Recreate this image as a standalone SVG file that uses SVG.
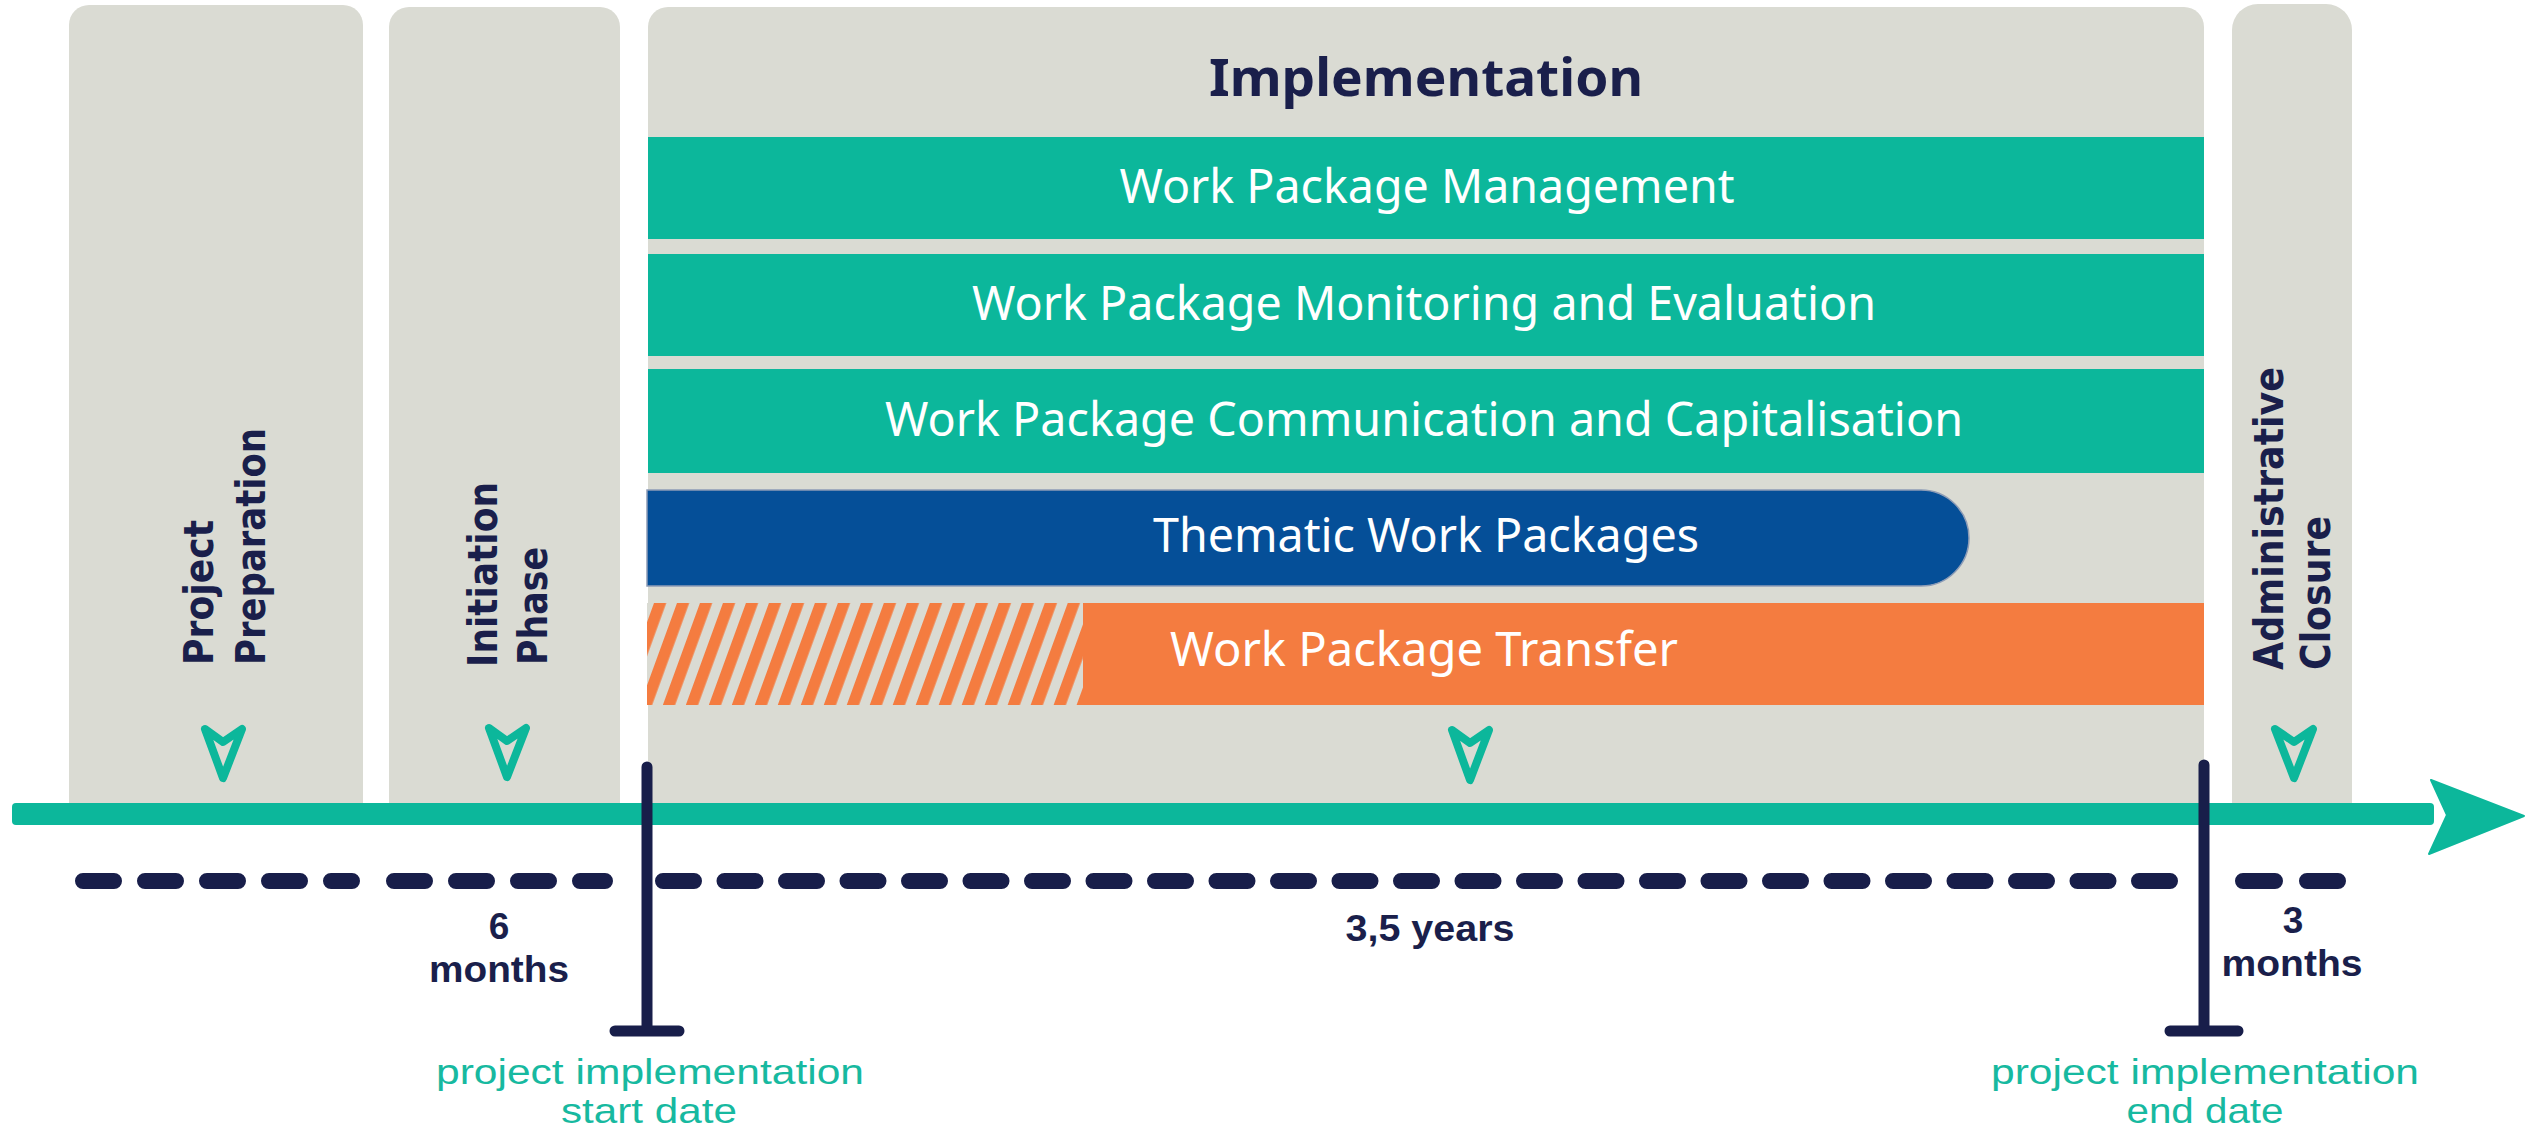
<svg xmlns="http://www.w3.org/2000/svg" width="2526" height="1131" viewBox="0 0 2526 1131">
<defs>
<style>
.phase{fill:#dadbd3}
.teal{fill:#0cb79b}
.lbl{font-family:"Noto Sans","Liberation Sans",sans-serif;font-size:47px;fill:#ffffff;text-anchor:middle}
.vt{font-family:"DejaVu Sans","Liberation Sans",sans-serif;font-weight:bold;font-size:40px;fill:#1a1f4b}
.dur{font-family:"Liberation Sans","Noto Sans",sans-serif;font-weight:bold;font-size:37px;fill:#1a1f4b;text-anchor:middle}
.ms{font-family:"Liberation Sans","Noto Sans",sans-serif;font-size:35px;fill:#17b9a0;text-anchor:middle}
.icon{fill:none;stroke:#0cb79b;stroke-width:8;stroke-linejoin:round;stroke-linecap:round}
.dash{fill:none;stroke:#181e4a;stroke-width:16;stroke-linecap:round;stroke-dasharray:31 31}
.mline{fill:none;stroke:#181e4a;stroke-width:11;stroke-linecap:round}
</style>
<pattern id="hatch" patternUnits="userSpaceOnUse" width="21.6" height="40" patternTransform="rotate(20)">
<rect x="0" y="0" width="21.6" height="40" fill="#dadbd3"/>
<rect x="0" y="0" width="11.5" height="40" fill="#f47c40"/>
</pattern>
</defs>
<rect width="2526" height="1131" fill="#ffffff"/>

<g id="node-project-preparation">
<path class="phase" d="M69,812 V25 A20,20 0 0 1 89,5 H343 A20,20 0 0 1 363,25 V812 Z"/>
<text class="vt" x="213" y="665" transform="rotate(-90 213 665)" textLength="145" lengthAdjust="spacingAndGlyphs">Project</text>
<text class="vt" x="265" y="665" transform="rotate(-90 265 665)" textLength="237" lengthAdjust="spacingAndGlyphs">Preparation</text>
<path class="icon" d="M205,729 L223,742 L242,729 L223,778 Z"/>
</g>

<g id="node-initiation-phase">
<path class="phase" d="M389,812 V27 A20,20 0 0 1 409,7 H600 A20,20 0 0 1 620,27 V812 Z"/>
<text class="vt" x="497" y="667" transform="rotate(-90 497 667)" textLength="185" lengthAdjust="spacingAndGlyphs">Initiation</text>
<text class="vt" x="547" y="665" transform="rotate(-90 547 665)" textLength="118" lengthAdjust="spacingAndGlyphs">Phase</text>
<path class="icon" d="M489,728 L507,741 L526,728 L507,777 Z"/>
</g>

<g id="node-implementation">
<path class="phase" d="M648,812 V27 A20,20 0 0 1 668,7 H2184 A20,20 0 0 1 2204,27 V812 Z"/>
<text x="1426" y="96" textLength="434" lengthAdjust="spacingAndGlyphs" style="font-family:'Noto Sans','Liberation Sans',sans-serif;font-weight:bold;font-size:52px;fill:#1a1f4b;text-anchor:middle">Implementation</text>
<path class="icon" d="M1452,730 L1470,743 L1489,730 L1470,780 Z"/>
</g>

<g id="node-wp-management">
<rect class="teal" x="648" y="137" width="1556" height="102"/>
<text class="lbl" x="1427" y="203" textLength="615" lengthAdjust="spacingAndGlyphs">Work Package Management</text>
</g>
<g id="node-wp-monitoring">
<rect class="teal" x="648" y="254" width="1556" height="102"/>
<text class="lbl" x="1424" y="320" textLength="904" lengthAdjust="spacingAndGlyphs">Work Package Monitoring and Evaluation</text>
</g>
<g id="node-wp-communication">
<rect class="teal" x="648" y="369" width="1556" height="104"/>
<text class="lbl" x="1424" y="436" textLength="1078" lengthAdjust="spacingAndGlyphs">Work Package Communication and Capitalisation</text>
</g>
<g id="node-thematic">
<path d="M647,490 H1921 A48,48 0 0 1 1921,586 H647 Z" fill="#054f98" stroke="#8d9cb6" stroke-width="1.5"/>
<text class="lbl" x="1426" y="552" textLength="546" lengthAdjust="spacingAndGlyphs">Thematic Work Packages</text>
</g>
<g id="node-transfer">
<rect x="647" y="603" width="437" height="102" fill="url(#hatch)"/>
<rect x="1083" y="603" width="1121" height="102" fill="#f47c40"/>
<text class="lbl" x="1424" y="666" textLength="508" lengthAdjust="spacingAndGlyphs">Work Package Transfer</text>
</g>

<g id="node-administrative-closure">
<path class="phase" d="M2232,812 V30 A26,26 0 0 1 2258,4 H2326 A26,26 0 0 1 2352,30 V812 Z"/>
<text class="vt" x="2283" y="670" transform="rotate(-90 2283 670)" textLength="303" lengthAdjust="spacingAndGlyphs">Administrative</text>
<text class="vt" x="2330" y="670" transform="rotate(-90 2330 670)" textLength="154" lengthAdjust="spacingAndGlyphs">Closure</text>
<path class="icon" d="M2275,729 L2294,742 L2313,729 L2294,778 Z"/>
</g>

<g id="connectors">
<rect x="12" y="803" width="2422" height="22" rx="4" fill="#0cb79b"/>
<path d="M2431,780 L2524,816 L2429,854 L2447,815 Z" fill="#0cb79b" stroke="#0cb79b" stroke-width="2" stroke-linejoin="round"/>
<path class="dash" d="M83,881 H352"/>
<path class="dash" d="M394,881 H605"/>
<path class="dash" d="M663,881 H2185" style="stroke-dasharray:31 30.5"/>
<path class="dash" d="M2243,881 H2338" style="stroke-dasharray:32 32"/>
<path class="mline" d="M647,767 V1031 M615,1031 H679"/>
<path class="mline" d="M2204,765 V1031 M2170,1031 H2238"/>
</g>

<g id="labels">
<text class="dur" x="499" y="939">6</text>
<text class="dur" x="499" y="982" textLength="140" lengthAdjust="spacingAndGlyphs">months</text>
<text class="dur" x="1430" y="941" textLength="169" lengthAdjust="spacingAndGlyphs">3,5 years</text>
<text class="dur" x="2293" y="933">3</text>
<text class="dur" x="2292" y="976" textLength="141" lengthAdjust="spacingAndGlyphs">months</text>
<text class="ms" x="650" y="1084" textLength="428" lengthAdjust="spacingAndGlyphs">project implementation</text>
<text class="ms" x="649" y="1123" textLength="176" lengthAdjust="spacingAndGlyphs">start date</text>
<text class="ms" x="2205" y="1084" textLength="428" lengthAdjust="spacingAndGlyphs">project implementation</text>
<text class="ms" x="2205" y="1123" textLength="157" lengthAdjust="spacingAndGlyphs">end date</text>
</g>
</svg>
